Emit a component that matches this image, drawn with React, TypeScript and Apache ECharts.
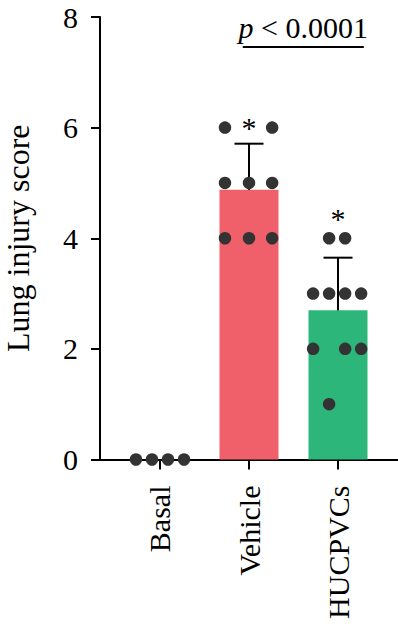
import React, { useEffect, useRef } from "react";
import * as echarts from "echarts";

const categories = ["Basal", "Vehicle", "HUCPVCs"];
const basalScores = [0, 0, 0, 0];
const vehicleScores = [6, 6, 5, 5, 5, 4, 4, 4];
const hucpvcScores = [4, 4, 3, 3, 3, 3, 2, 2, 2, 1];
// horizontal jitter of each dot, in category units
const basalJitter = [-0.27, -0.09, 0.09, 0.27];
const vehicleJitter = [-0.27, 0.26, -0.27, 0, 0.26, -0.27, 0, 0.26];
const hucpvcJitter = [-0.1, 0.08, -0.28, -0.1, 0.08, 0.26, -0.28, 0.08, 0.26, -0.1];
const yTicks = [0, 2, 4, 6, 8];
const starCategories = [1, 2];
const starHeights = [6.0, 4.36];
const pValueLabel = "p < 0.0001";
const bracketFrom = 0.93;
const bracketTo = 2.29;
const bracketHeight = 7.46;

const groups = [basalScores, vehicleScores, hucpvcScores];
const jitters = [basalJitter, vehicleJitter, hucpvcJitter];

const mean = (a: number[]) => a.reduce((s, v) => s + v, 0) / a.length;
const sd = (a: number[]) => {
  const m = mean(a);
  return Math.sqrt(a.reduce((s, v) => s + (v - m) * (v - m), 0) / (a.length - 1));
};

const FONT = "Liberation Serif";

export default function App() {
  const ref = useRef<HTMLDivElement>(null);
  useEffect(() => {
    if (!ref.current) return;
    const chart = echarts.init(ref.current, null, { renderer: "svg" });
    const means = groups.map(mean);
    const sds = groups.map(sd);
    const barData = means.map((m, i) => [i, m]);
    const errData = means.map((m, i) => [i, m, sds[i]]).filter((d) => d[2] > 0);
    const dotData: number[][] = [];
    groups.forEach((g, gi) => g.forEach((v, k) => dotData.push([gi + jitters[gi][k], v])));
    const starData = starCategories.map((c, i) => [c, starHeights[i]]);

    chart.setOption({
      animation: false,
      textStyle: { fontFamily: FONT },
      grid: { left: 100, top: 17, width: 298, height: 442.5, outerBoundsMode: "none" },
      xAxis: {
        type: "value",
        min: -0.674,
        max: 2.674,
        splitLine: { show: false },
        axisLine: { show: true, onZero: false, lineStyle: { color: "#000", width: 2 } },
        axisTick: { show: true, customValues: [0, 1, 2], length: 10, lineStyle: { color: "#000", width: 2 } },
        axisLabel: {
          customValues: [0, 1, 2],
          formatter: (v: number) => categories[Math.round(v)],
          rotate: 90,
          margin: 26,
          color: "#000",
          fontFamily: FONT,
          fontSize: 30,
        },
      },
      yAxis: {
        type: "value",
        min: 0,
        max: 8,
        interval: 2,
        name: "Lung injury score",
        nameLocation: "middle",
        nameGap: 66,
        nameTextStyle: { color: "#000", fontFamily: FONT, fontSize: 32 },
        splitLine: { show: false },
        axisLine: { show: true, onZero: false, lineStyle: { color: "#000", width: 2 } },
        axisTick: { show: true, length: 9, lineStyle: { color: "#000", width: 2 } },
        axisLabel: {
          margin: 22,
          color: "#000",
          fontFamily: FONT,
          fontSize: 30,
          formatter: (v: number) => (yTicks.includes(v) ? String(v) : ""),
        },
      },
      series: [
        {
          type: "bar",
          data: barData.map((d, i) => ({
            value: d,
            itemStyle: { color: ["#F0606A", "#F0606A", "#2CB67A"][i] },
          })),
          barWidth: 59,
        },
        {
          type: "custom",
          data: errData,
          encode: { x: 0, y: 1 },
          renderItem: (params: any, api: any) => {
            const x = api.value(0);
            const m = api.value(1);
            const s = api.value(2);
            const top = api.coord([x, m + s]);
            const bot = api.coord([x, m - s]);
            const hw = 14.5;
            const style = { stroke: "#000", lineWidth: 2 };
            return {
              type: "group",
              children: [
                { type: "line", shape: { x1: top[0], y1: top[1], x2: bot[0], y2: bot[1] }, style },
                { type: "line", shape: { x1: top[0] - hw, y1: top[1], x2: top[0] + hw, y2: top[1] }, style },
                { type: "line", shape: { x1: bot[0] - hw, y1: bot[1], x2: bot[0] + hw, y2: bot[1] }, style },
              ],
            };
          },
        },
        {
          type: "scatter",
          data: dotData,
          symbolSize: 12.5,
          itemStyle: { color: "#333333", opacity: 1 },
        },
        {
          type: "scatter",
          data: starData,
          symbolSize: 1,
          itemStyle: { color: "rgba(0,0,0,0)" },
          label: {
            show: true,
            position: "inside",
            formatter: "*",
            color: "#000",
            opacity: 1,
            fontFamily: FONT,
            fontSize: 30,
          },
          markLine: {
            silent: true,
            symbol: ["none", "none"],
            lineStyle: { color: "#000", width: 2, type: "solid", opacity: 1 },
            label: {
              show: true,
              position: "middle",
              distance: 4,
              formatter: "{i|p} < 0.0001",
              color: "#000",
              fontFamily: FONT,
              fontSize: 30,
              rich: { i: { fontStyle: "italic", fontFamily: FONT, fontSize: 30, color: "#000" } },
            },
            data: [
              [
                { coord: [bracketFrom, bracketHeight], name: pValueLabel },
                { coord: [bracketTo, bracketHeight] },
              ],
            ],
          },
        },
      ],
    });
    return () => chart.dispose();
  }, []);
  return (
    <div
      ref={ref}
      style={{ position: "absolute", left: 0, top: 0, width: 398, height: 632, background: "#fff" }}
    />
  );
}
